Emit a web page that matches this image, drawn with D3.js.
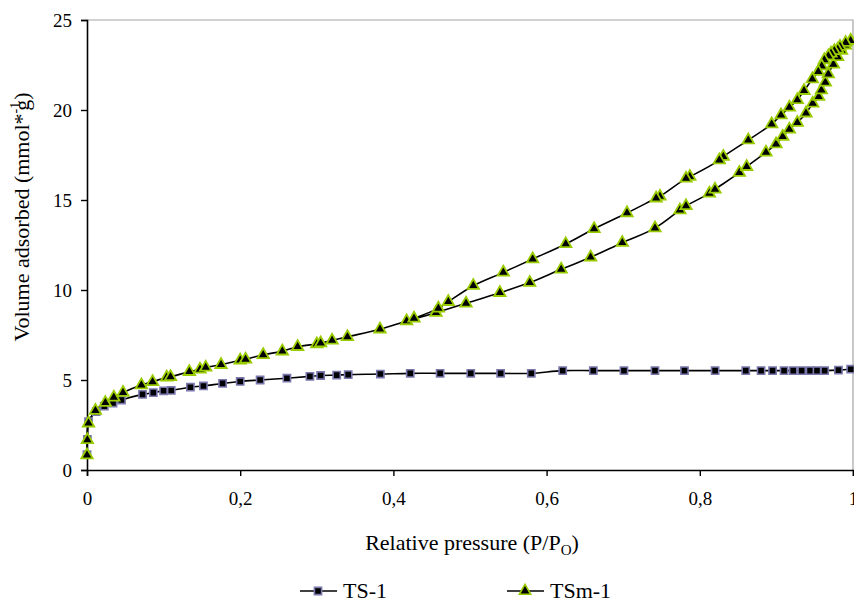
<!DOCTYPE html>
<html>
<head>
<meta charset="utf-8">
<script src="https://cdn.jsdelivr.net/npm/d3@7"></script>
<style>
  body { margin: 0; background: #fff; }
  text { font-family: "Liberation Serif", "Times New Roman", serif; fill: #000; }
</style>
</head>
<body>
<div id="chart"></div>
<script>
var seriesNames = ["TS-1", "TSm-1"];

var ts1P = [0, 0.0005, 0.002, 0.012, 0.0226, 0.034, 0.045, 0.0725, 0.0866, 0.1, 0.11, 0.135, 0.152, 0.177, 0.2,
            0.226, 0.261, 0.291, 0.305, 0.326, 0.341, 0.383, 0.422, 0.461, 0.501, 0.54, 0.58, 0.621, 0.661, 0.701,
            0.7415, 0.78, 0.82, 0.86, 0.88, 0.895, 0.91, 0.922, 0.933, 0.944, 0.953, 0.963, 0.981, 0.997];
var ts1V = [0.85, 1.7, 2.68, 3.24, 3.55, 3.72, 3.89, 4.2, 4.3, 4.4, 4.42, 4.6, 4.67, 4.81, 4.92,
            5.0, 5.1, 5.2, 5.25, 5.27, 5.3, 5.33, 5.37, 5.37, 5.37, 5.37, 5.37, 5.52, 5.52, 5.52,
            5.52, 5.52, 5.52, 5.52, 5.52, 5.52, 5.52, 5.52, 5.52, 5.52, 5.52, 5.52, 5.55, 5.6];

// adsorption branch, increasing pressure
var tsmAdsP = [0, 0.0005, 0.002, 0.011, 0.024, 0.035, 0.047, 0.071, 0.0856, 0.104, 0.109, 0.1336, 0.1475, 0.155,
               0.175, 0.2, 0.207, 0.23, 0.255, 0.275, 0.3, 0.305, 0.32, 0.34, 0.3825, 0.4173, 0.4556, 0.4948,
               0.539, 0.578, 0.619, 0.6575, 0.6988, 0.7415, 0.774, 0.782, 0.8125, 0.8198, 0.8516, 0.8612, 0.8864,
               0.8995, 0.9082, 0.9169, 0.9273, 0.9386, 0.9474, 0.9552, 0.9587, 0.9639, 0.9678, 0.9744, 0.98,
               0.985, 0.99, 0.997];
var tsmAdsV = [0.83, 1.67, 2.6, 3.3, 3.74, 4.04, 4.3, 4.72, 4.9, 5.15, 5.18, 5.46, 5.59, 5.7,
               5.85, 6.1, 6.15, 6.4, 6.6, 6.85, 7.0, 7.05, 7.2, 7.4, 7.82, 8.28, 8.74, 9.26,
               9.85, 10.41, 11.15, 11.82, 12.63, 13.44, 14.44, 14.67, 15.37, 15.59, 16.52, 16.85, 17.65,
               18.11, 18.52, 18.93, 19.3, 19.82, 20.37, 20.74, 21.11, 21.54, 22.0, 22.54, 22.95,
               23.3, 23.6, 23.85];

// desorption branch, decreasing pressure
var tsmDesP = [0.997, 0.9904, 0.983, 0.98, 0.9756, 0.9713, 0.9678, 0.9626, 0.9591, 0.9547, 0.9469, 0.9361,
               0.9273, 0.9169, 0.906, 0.8938, 0.8633, 0.8307, 0.8255, 0.787, 0.782, 0.748, 0.743, 0.705,
               0.662, 0.625, 0.5818, 0.5435, 0.5043, 0.4717, 0.4587, 0.4269];
var tsmDesV = [23.85, 23.74, 23.52, 23.37, 23.29, 23.15, 23.0, 22.78, 22.44, 22.13, 21.72, 21.07,
               20.56, 20.15, 19.72, 19.22, 18.33, 17.41, 17.22, 16.3, 16.2, 15.2, 15.1, 14.28,
               13.4, 12.56, 11.72, 10.98, 10.24, 9.35, 8.98, 8.43];

var xTicks = [0, 0.2, 0.4, 0.6, 0.8, 1];
var xTickLabels = ["0", "0,2", "0,4", "0,6", "0,8", "1"];
var yTicks = [0, 5, 10, 15, 20, 25];

var width = 854, height = 611;
var plotL = 87, plotR = 853, plotT = 20, plotB = 470;

var svg = d3.select("#chart")
            .append("svg")
            .attr("width", width)
            .attr("height", height);

var x = d3.scaleLinear().domain([0, 1]).range([plotL, plotR]);
var y = d3.scaleLinear().domain([0, 25]).range([plotB, plotT]);

// plot frame: grey top/right, black axes
svg.append("path")
   .attr("d", "M" + plotL + "," + plotT + "H" + plotR + "V" + plotB)
   .attr("fill", "none")
   .attr("stroke", "#a6a6a6")
   .attr("stroke-width", 1.2);

var xAxis = d3.axisBottom(x)
              .tickValues(xTicks)
              .tickFormat(function(d, i) { return xTickLabels[i]; })
              .tickSize(6)
              .tickPadding(16);

var yAxis = d3.axisLeft(y)
              .tickValues(yTicks)
              .tickSize(6)
              .tickPadding(9);

var gx = svg.append("g")
   .attr("transform", "translate(0," + plotB + ")")
   .call(xAxis);
var gy = svg.append("g")
   .attr("transform", "translate(" + plotL + ",0)")
   .call(yAxis);

[gx, gy].forEach(function(g) {
  g.attr("font-family", "'Liberation Serif', serif");
  g.select(".domain").attr("stroke", "#000").attr("stroke-width", 1.6);
  g.selectAll(".tick line").attr("stroke", "#000").attr("stroke-width", 1.4);
  g.selectAll(".tick text")
   .style("font-family", "'Liberation Serif', serif")
   .style("font-size", "19px")
   .attr("fill", "#000");
});

// axis titles
var yTitle = svg.append("text")
   .attr("transform", "translate(29,217) rotate(-90)")
   .attr("text-anchor", "middle")
   .style("font-size", "22px");
yTitle.append("tspan").text("Volume adsorbed (mmol*");
yTitle.append("tspan").attr("dy", -9).style("font-size", "14px").text("-1");
yTitle.append("tspan").attr("dy", 9).attr("dx", -9).text("g)");

var xTitle = svg.append("text")
   .attr("x", 472)
   .attr("y", 550)
   .attr("text-anchor", "middle")
   .style("font-size", "22px");
xTitle.append("tspan").text("Relative pressure (P/P");
xTitle.append("tspan").attr("dy", 5).style("font-size", "15px").text("O");
xTitle.append("tspan").attr("dy", -5).text(")");

var ts1 = ts1P.map(function(p, i) { return [p, ts1V[i]]; });
var tsmAds = tsmAdsP.map(function(p, i) { return [p, tsmAdsV[i]]; });
var tsmDes = tsmDesP.map(function(p, i) { return [p, tsmDesV[i]]; });
var tsm = tsmAds.concat(tsmDes);

var line = d3.line()
             .x(function(d) { return x(d[0]); })
             .y(function(d) { return y(d[1]); })
             .curve(d3.curveCatmullRom.alpha(0.5));

svg.append("path")
   .attr("d", line(ts1))
   .attr("fill", "none")
   .attr("stroke", "#000")
   .attr("stroke-width", 1.6);

svg.append("path")
   .attr("d", line(tsm))
   .attr("fill", "none")
   .attr("stroke", "#000")
   .attr("stroke-width", 1.6);

var square = d3.symbol().type(d3.symbolSquare).size(52);
var triangle = d3.symbol().type(d3.symbolTriangle).size(56);

svg.append("g")
   .selectAll("path")
   .data(ts1)
   .enter()
   .append("path")
     .attr("d", square)
     .attr("transform", function(d) { return "translate(" + x(d[0]) + "," + y(d[1]) + ")"; })
     .attr("fill", "#000")
     .attr("stroke", "#7a78ad")
     .attr("stroke-width", 1.6);

svg.append("g")
   .selectAll("path")
   .data(tsm)
   .enter()
   .append("path")
     .attr("d", triangle)
     .attr("transform", function(d) { return "translate(" + x(d[0]) + "," + y(d[1]) + ")"; })
     .attr("fill", "#000")
     .attr("stroke", "#99cc00")
     .attr("stroke-width", 1.8);

// legend
var legendItems = [{ name: seriesNames[0], x: 300, sym: square, stroke: "#7a78ad" },
                   { name: seriesNames[1], x: 507, sym: triangle, stroke: "#99cc00" }];

var legend = svg.append("g").attr("transform", "translate(0,591)");
legendItems.forEach(function(it) {
  var g = legend.append("g").attr("transform", "translate(" + it.x + ",0)");
  g.append("line").attr("x1", 0).attr("x2", 37).attr("stroke", "#000").attr("stroke-width", 1.6);
  g.append("path").attr("d", it.sym).attr("transform", "translate(18,0)")
   .attr("fill", "#000").attr("stroke", it.stroke).attr("stroke-width", 1.6);
  g.append("text").attr("x", 43).attr("y", 7).style("font-size", "22px").text(it.name);
});
</script>
</body>
</html>
